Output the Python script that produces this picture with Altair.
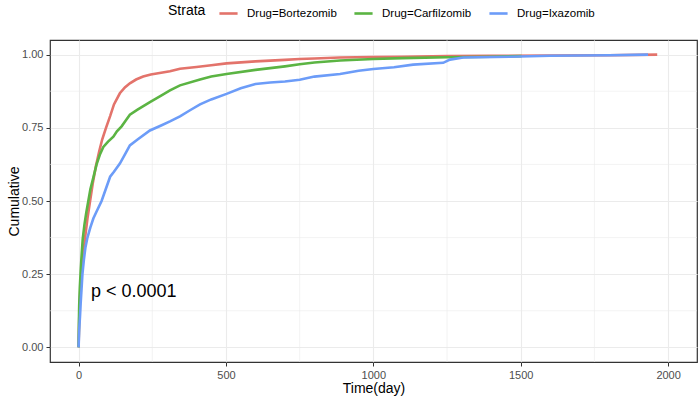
import altair as alt
import pandas as pd

# Bortezomib
bort_day = [0, 1, 3, 6, 10, 15, 22, 30, 39, 48, 59, 70, 80, 93, 107, 120, 140, 157, 174, 195, 219, 245,
            280, 310, 344, 400, 450, 502, 600, 700, 750, 800, 887, 1000, 1100, 1250, 1400, 1600, 1800, 1963]
bort_cum = [0, 0.05, 0.13, 0.20, 0.25, 0.31, 0.375, 0.44, 0.50, 0.56, 0.62, 0.67, 0.71, 0.75, 0.79, 0.83,
            0.868, 0.888, 0.902, 0.915, 0.925, 0.932, 0.938, 0.943, 0.952, 0.958, 0.964, 0.970, 0.977, 0.982,
            0.985, 0.987, 0.990, 0.992, 0.993, 0.995, 0.996, 0.997, 0.998, 1.0]
# Carfilzomib
carf_day = [0, 1, 2, 4, 7, 10, 14, 20, 26, 33, 40, 50, 61, 72, 84, 100, 118, 130, 146, 160, 174, 200, 242,
            280, 310, 344, 412, 450, 502, 600, 700, 750, 800, 887, 1000, 1100, 1250, 1400, 1503]
carf_cum = [0, 0.08, 0.14, 0.20, 0.26, 0.31, 0.37, 0.42, 0.46, 0.50, 0.54, 0.58, 0.625, 0.658, 0.685, 0.703,
            0.72, 0.738, 0.755, 0.775, 0.795, 0.812, 0.838, 0.86, 0.878, 0.895, 0.915, 0.925, 0.934, 0.948,
            0.96, 0.967, 0.973, 0.98, 0.985, 0.988, 0.991, 0.993, 0.995]
# Ixazomib
ixa_day = [0, 2, 5, 7, 10, 13, 18, 23, 30, 40, 50, 61, 78, 92, 107, 120, 140, 155, 174, 200, 242, 280, 310,
           344, 378, 412, 450, 502, 550, 600, 650, 700, 750, 800, 887, 950, 1000, 1070, 1135, 1237, 1260,
           1305, 1464, 1600, 1800, 1932]
ixa_cum = [0, 0.06, 0.11, 0.15, 0.20, 0.25, 0.30, 0.34, 0.375, 0.41, 0.44, 0.464, 0.50, 0.54, 0.583, 0.60,
           0.628, 0.655, 0.69, 0.71, 0.741, 0.758, 0.772, 0.789, 0.81, 0.83, 0.847, 0.866, 0.885, 0.90, 0.905,
           0.908, 0.914, 0.925, 0.934, 0.945, 0.951, 0.957, 0.966, 0.972, 0.983, 0.99, 0.993, 0.996, 0.998, 1.0]

strata = ["Drug=Bortezomib", "Drug=Carfilzomib", "Drug=Ixazomib"]
colors = ["#E3736B", "#5BB443", "#6C9CF8"]

x_ticks = [0, 500, 1000, 1500, 2000]
y_ticks = [0.0, 0.25, 0.5, 0.75, 1.0]
x_minor = [250, 750, 1250, 1750]
y_minor = [0.125, 0.375, 0.625, 0.875]

p_label = ["p < 0.0001"]
p_day = [42]
p_cum = [0.19]

rows = []
for name, ds, cs in zip(strata, [bort_day, carf_day, ixa_day], [bort_cum, carf_cum, ixa_cum]):
    for i, (d, c) in enumerate(zip(ds, cs)):
        rows.append({"Strata": name, "day": d, "cum": c, "order": i})
df = pd.DataFrame(rows)

xdom = [-97, 2098]
ydom = [-0.05, 1.05]
xscale = alt.Scale(domain=xdom, nice=False, zero=False)
yscale = alt.Scale(domain=ydom, nice=False, zero=False)

grid_color = "#EBEBEB"

minor_x = alt.Chart(pd.DataFrame({"v": x_minor})).mark_rule(color=grid_color, strokeWidth=0.6).encode(
    x=alt.X("v:Q", scale=xscale))
minor_y = alt.Chart(pd.DataFrame({"v": y_minor})).mark_rule(color=grid_color, strokeWidth=0.6).encode(
    y=alt.Y("v:Q", scale=yscale))

lines = alt.Chart(df).mark_line(strokeWidth=2.6).encode(
    x=alt.X("day:Q", scale=xscale, title="Time(day)",
            axis=alt.Axis(values=x_ticks, grid=True, gridColor=grid_color, gridWidth=1.1, format="d")),
    y=alt.Y("cum:Q", scale=yscale, title="Cumulative",
            axis=alt.Axis(values=y_ticks, grid=True, gridColor=grid_color, gridWidth=1.1, format=".2f",
                          titleX=-36, titleY=161, titleBaseline="middle", titleAlign="center")),
    color=alt.Color("Strata:N", scale=alt.Scale(domain=strata, range=colors),
                    legend=alt.Legend(orient="none", direction="horizontal", titleOrient="left",
                                      titleBaseline="middle", titleAnchor="middle",
                                      legendX=118, legendY=-37, symbolType="stroke", symbolStrokeWidth=2.6,
                                      symbolSize=330, columnPadding=12, labelOffset=8)),
    order="order:Q",
)

ptext = alt.Chart(pd.DataFrame({"t": p_label, "d": p_day, "c": p_cum})).mark_text(
    align="left", baseline="middle", fontSize=18, font="Liberation Sans", color="black").encode(
    x=alt.X("d:Q", scale=xscale), y=alt.Y("c:Q", scale=yscale), text="t:N")

chart = alt.layer(minor_x, minor_y, lines, ptext).properties(
    width=647, height=322, autosize="none",
    padding={"left": 50, "top": 40, "right": 3, "bottom": 40},
).configure(font="Liberation Sans").configure_view(
    stroke="#333333", strokeWidth=1.2
).configure_axis(
    domain=False, tickColor="#333333", tickSize=4, tickWidth=1,
    labelColor="#4D4D4D", labelFontSize=11, labelPadding=3,
    titleColor="black", titleFontSize=14, titleFontWeight="normal",
).configure_axisX(titlePadding=1).configure_legend(
    titleFontSize=14, titleFontWeight="normal", titleColor="black", labelFontSize=11.5,
    labelColor="black", titlePadding=12,
)

chart.save("out.html", embed_options={"renderer": "svg", "actions": False})
